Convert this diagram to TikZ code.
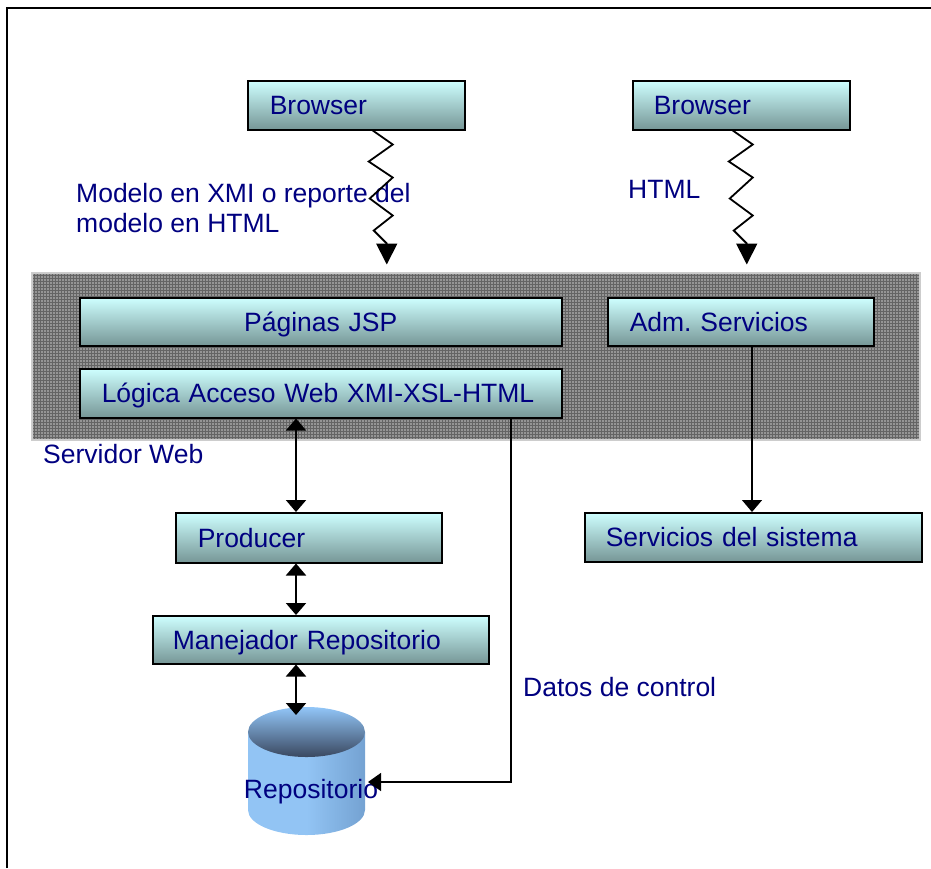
\documentclass[tikz,border=0pt]{standalone}
\usepackage{fontspec}
\setmainfont{Liberation Sans}
\usetikzlibrary{arrows.meta,patterns.meta,calc}
\frenchspacing

\definecolor{txt}{RGB}{0,0,128}
\definecolor{boxtop}{RGB}{206,255,255}
\definecolor{boxbot}{RGB}{118,150,150}
\definecolor{srvfill}{RGB}{100,100,100}
\definecolor{srvdot}{RGB}{200,200,200}
\definecolor{srvedge}{RGB}{205,205,205}
\definecolor{cylbody}{RGB}{146,196,244}
\definecolor{cylside}{RGB}{116,162,210}
\definecolor{cyltop}{RGB}{146,198,248}
\definecolor{cyldark}{RGB}{58,72,96}

\begin{document}
\begin{tikzpicture}[x=1pt,y=-1pt,
  lbl/.style={font=\fontsize{26.5}{30}\selectfont, text=txt, inner sep=0pt},
  box/.style={draw=black, line width=1.5pt, top color=boxtop, bottom color=boxbot,
    anchor=north west, font=\fontsize{26.5}{30}\selectfont, text=txt,
    inner ysep=0pt, inner xsep=22pt, text height=19pt, text depth=0pt, align=left},
  server/.style={draw=srvedge, line width=2.2pt, fill=srvfill, anchor=north west,
    postaction={pattern={Dots[distance=3pt,radius=0.95pt]}, pattern color=srvdot}},
  zz/.style={line width=1.8pt, -{Triangle[width=21pt,length=21pt]}},
  dbl/.style={line width=2pt, {Triangle[width=20pt,length=12pt]}-{Triangle[width=20pt,length=12pt]}},
  one/.style={line width=1.4pt, -{Triangle[width=20pt,length=12pt]}},
  ctl/.style={line width=1.5pt, -{Triangle[width=18pt,length=13pt]}}
]
\useasboundingbox (0,0) rectangle (931,868);

% frame
\draw[line width=1.6pt] (7,868) -- (7,8) -- (931,8);

% web server area
\node[server, minimum width=888pt, minimum height=167pt] (srv) at (31,272) {};
\node[lbl, anchor=base west] (sw) at (43,463) {Servidor Web};

% boxes
\node[box, minimum width=217pt, minimum height=49pt, text width=173pt] (b1) at (247,80) {Browser};
\node[box, minimum width=217pt, minimum height=49pt, inner xsep=21pt, text width=175pt] (b2) at (632,80) {Browser};
\node[box, minimum width=482pt, minimum height=48pt, inner xsep=21pt, text width=440pt, align=center] (pj) at (79,297) {Páginas JSP};
\node[box, minimum width=482pt, minimum height=49pt, text width=438pt] (lg) at (79,368) {Lógica Acceso Web XMI-XSL-HTML};
\node[box, minimum width=266pt, minimum height=48pt, text width=222pt] (adm) at (607,297) {Adm. Servicios};
\node[box, minimum width=266pt, minimum height=50pt, text width=222pt] (pr) at (175,512) {Producer};
\node[box, minimum width=336pt, minimum height=48pt, inner xsep=20pt, text width=296pt] (mr) at (152,615) {Manejador Repositorio};
\node[box, minimum width=337pt, minimum height=49pt, inner xsep=21pt, text width=295pt] (ss) at (584,512) {Servicios del sistema};

% labels
\node[lbl, anchor=north west, align=left] (mod) at (76,183) {Modelo en XMI o reporte del\\modelo en HTML};
\node[lbl, anchor=base west] (html) at (628,198) {HTML};
\node[lbl, anchor=base west] (dc) at (523,696) {Datos de control};

% repository cylinder
\shade[left color=cylbody, right color=cylside, middle color=cylbody]
  (248,732) -- (248,810) arc[start angle=180, end angle=360, x radius=58.5pt, y radius=25pt]
  -- (365,732) -- cycle;
\shade[top color=cyltop, bottom color=cyldark] (306.5,732) ellipse[x radius=58.5pt, y radius=25pt];
\node[lbl, anchor=base] (repo) at (311,798) {Repositorio};

% anchor points for connectors
\coordinate (ax) at (296,0);
\coordinate (sx) at (752,0);
\coordinate (dx) at (511,0);
\coordinate (cyltopin) at (296,715);
\coordinate (cylright) at (368,782);

% browser links
\draw[zz] ([xshift=16.5pt]b1.south) -- ++(20,14) -- ++(-24,17) -- ++(24,16) -- ++(-23,21)
  -- ++(23,17) -- ++(-19,15) -- ++(13,13) -- ++(0,21);
\draw[zz] ([xshift=-8.5pt]b2.south) -- ++(20,14) -- ++(-24,17) -- ++(24,16) -- ++(-23,21)
  -- ++(23,17) -- ++(-19,15) -- ++(13,13) -- ++(0,21);

% internal links
\draw[dbl] (lg.south -| ax) -- (pr.north -| ax);
\draw[dbl] (pr.south -| ax) -- (mr.north -| ax);
\draw[dbl] (mr.south -| ax) -- (cyltopin);
\draw[one] (adm.south -| sx) -- (ss.north -| sx);
\draw[ctl] (lg.south -| dx) |- (cylright);
\end{tikzpicture}
\end{document}
